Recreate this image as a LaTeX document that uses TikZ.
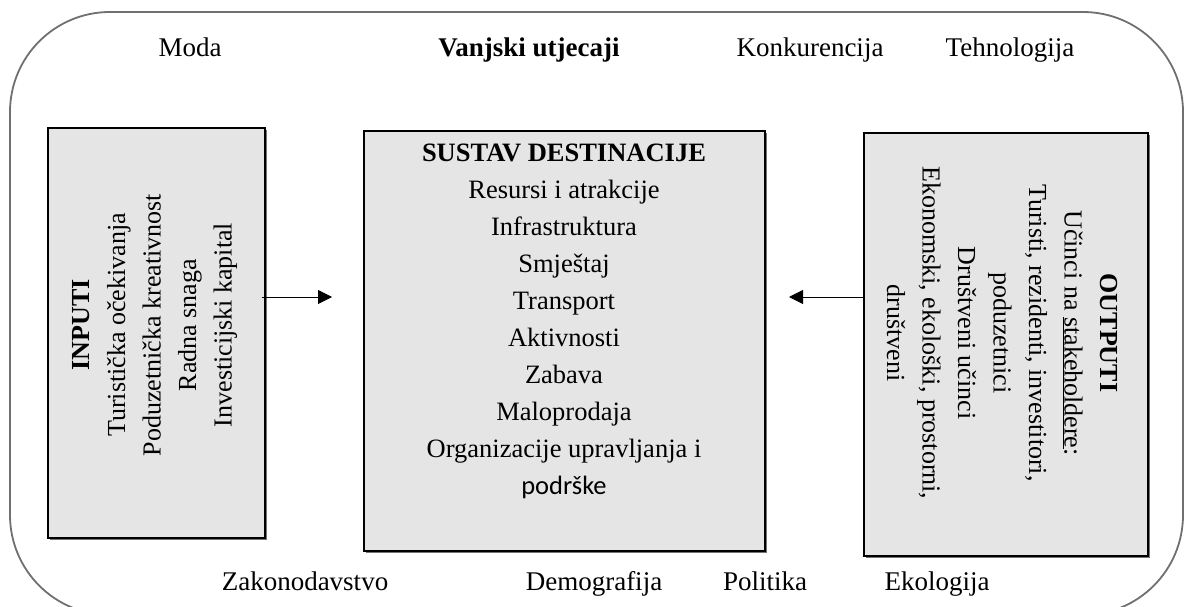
\documentclass[tikz,border=0pt]{standalone}
\usepackage{fontspec}
\setmainfont{Liberation Serif}
\newfontfamily\podfont{Carlito}
\usetikzlibrary{arrows.meta,shadows}
\definecolor{boxgray}{HTML}{E5E5E5}
\definecolor{framegray}{HTML}{707070}
\begin{document}
\begin{tikzpicture}[x=1pt,y=-1pt,
  sbox/.style={draw=black, line width=1.7pt, fill=boxgray, inner sep=0pt,
    general shadow={shadow xshift=1.8pt, shadow yshift=-1.8pt, fill=black!55}},
  lbl/.style={inner sep=0pt, anchor=base, font=\fontsize{27}{32}\selectfont},
  boxtxt/.style={inner sep=0pt, align=center, font=\fontsize{26}{35.5}\selectfont},
  arr/.style={line width=0.8pt, -{Triangle[length=14pt,width=14pt]}}]
\useasboundingbox (0,0) rectangle (1186,607);
\draw[framegray, line width=1.8pt, rounded corners=100pt] (10,12) rectangle (1183,615);
% top labels
\node[lbl] (moda) at (190,57) {Moda};
\node[lbl] (vanj) at (529,57) {\textbf{Vanjski utjecaji}};
\node[lbl] (konk) at (810,57) {Konkurencija};
\node[lbl] (tehn) at (1010,57) {Tehnologija};
% bottom labels
\node[lbl] (zak) at (305,590) {Zakonodavstvo};
\node[lbl] (dem) at (594,590) {Demografija};
\node[lbl] (pol) at (765,590) {Politika};
\node[lbl] (eko) at (937,590) {Ekologija};
% boxes
\node[sbox, anchor=north west, minimum width=217pt, minimum height=410pt] (in) at (47,127) {};
\node[sbox, anchor=north west, minimum width=401pt, minimum height=420pt] (sys) at (363,130) {};
\node[sbox, anchor=north west, minimum width=284pt, minimum height=423pt] (out) at (863,132) {};
% box texts
\node[boxtxt, rotate=90] (intext) at (155,325)
  {\textbf{INPUTI}\\Turistička očekivanja\\Poduzetnička kreativnost\\Radna snaga\\Investicijski kapital};
\node[boxtxt, anchor=north, font=\fontsize{26.5}{37}\selectfont] (systext) at (564,144)
  {\textbf{SUSTAV DESTINACIJE}\\Resursi i atrakcije\\Infrastruktura\\Smještaj\\Transport\\Aktivnosti\\Zabava\\Maloprodaja\\Organizacije upravljanja i\\{\podfont podrške}};
\node[boxtxt, rotate=-90] (outtext) at (1002,333)
  {\textbf{OUTPUTI}\\Učinci na \underline{stakeholdere}:\\Turisti, rezidenti, investitori,\\poduzetnici\\Društveni učinci\\Ekonomski, ekološki, prostorni,\\društveni};
% arrows
\coordinate (a1) at (332,297);
\coordinate (a2) at (789,297);
\draw[arr] ([xshift=-4pt]a1 -| in.east) -- (a1);
\draw[arr] (a2 -| out.west) -- (a2);
\end{tikzpicture}
\end{document}
